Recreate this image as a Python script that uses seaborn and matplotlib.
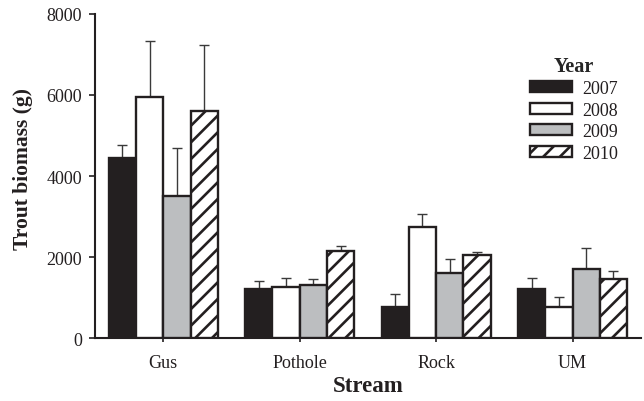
import numpy as np
import pandas as pd
import matplotlib
matplotlib.use("Agg")
import matplotlib.pyplot as plt
import seaborn as sns

# Mean trout biomass (g) per stream and year, with upper error (SE)
streams = ["Gus", "Pothole", "Rock", "UM"]
years = ["2007", "2008", "2009", "2010"]
biomass_2007 = [4450, 1215, 765, 1210]
biomass_2008 = [5945, 1275, 2750, 765]
biomass_2009 = [3500, 1325, 1620, 1718]
biomass_2010 = [5605, 2155, 2045, 1472]
err_2007 = [313, 200, 330, 287]
err_2008 = [1370, 215, 315, 250]
err_2009 = [1180, 148, 330, 510]
err_2010 = [1625, 130, 90, 197]

means = [biomass_2007, biomass_2008, biomass_2009, biomass_2010]
errs = [err_2007, err_2008, err_2009, err_2010]

df = pd.DataFrame({
    "Stream": np.repeat(streams, len(years)),
    "Year": years * len(streams),
    "Biomass": [means[j][i] for i in range(len(streams)) for j in range(len(years))],
})

sns.set_theme(style="ticks")
plt.rcParams["font.family"] = ["Liberation Serif", "DejaVu Serif"]
plt.rcParams["hatch.linewidth"] = 1.9
plt.rcParams["hatch.color"] = "#231f20"

ink = "#231f20"
fills = {"2007": ink, "2008": "#ffffff", "2009": "#bcbec0", "2010": "#ffffff"}

fig = plt.figure(figsize=(6.44, 4.02), dpi=100)
ax = fig.add_axes([0.1475, 0.1555, 0.8475, 0.808])

sns.barplot(data=df, x="Stream", y="Biomass", hue="Year", hue_order=years,
            order=streams, palette=fills, errorbar=None, width=0.8, gap=0,
            edgecolor=ink, linewidth=1.7, saturation=1, legend=False,
            ax=ax, zorder=3)

bar_groups = list(ax.containers)
for patch in bar_groups[3].patches:
    patch.set_hatch("//")

# upper-only error bars at each bar's centre
for cont, m, e in zip(bar_groups, means, errs):
    xs = [p.get_x() + p.get_width() / 2 for p in cont.patches]
    ax.errorbar(xs, m, yerr=[np.zeros(len(e)), e], fmt="none", ecolor="#3a3a3a",
                elinewidth=1.0, capsize=3.9, capthick=1.0, zorder=2)

ax.set_ylim(0, 8000)
ax.set_xlim(-0.5, 3.5)
ax.set_yticks([0, 2000, 4000, 6000, 8000])
ax.set_xlabel("Stream", fontsize=16.5, fontweight="bold", labelpad=3, color=ink)
ax.set_ylabel("Trout biomass (g)", fontsize=15.5, fontweight="bold", color=ink)
ax.yaxis.set_label_coords(-0.113, 0.525)
ax.tick_params(axis="y", labelsize=13, length=4.5, width=1.2, pad=5, colors=ink)
ax.tick_params(axis="x", labelsize=13, length=3, width=1.2, pad=8, colors=ink)
sns.despine(ax=ax)
for s in ("left", "bottom"):
    ax.spines[s].set_linewidth(1.5)
    ax.spines[s].set_color(ink)

handles = [c.patches[0] for c in bar_groups]
leg = ax.legend(handles, years, title="Year", frameon=False, fontsize=13,
                title_fontproperties={"weight": "bold", "size": 14.5},
                loc="upper left", bbox_to_anchor=(530 / 644, 1 - 56.5 / 402),
                bbox_transform=fig.transFigure, borderaxespad=0, borderpad=0,
                handlelength=2.33, handleheight=0.55, handletextpad=0.55,
                labelspacing=0.25)
for t in leg.get_texts():
    t.set_color(ink)

fig.savefig("out.png", dpi=100)
